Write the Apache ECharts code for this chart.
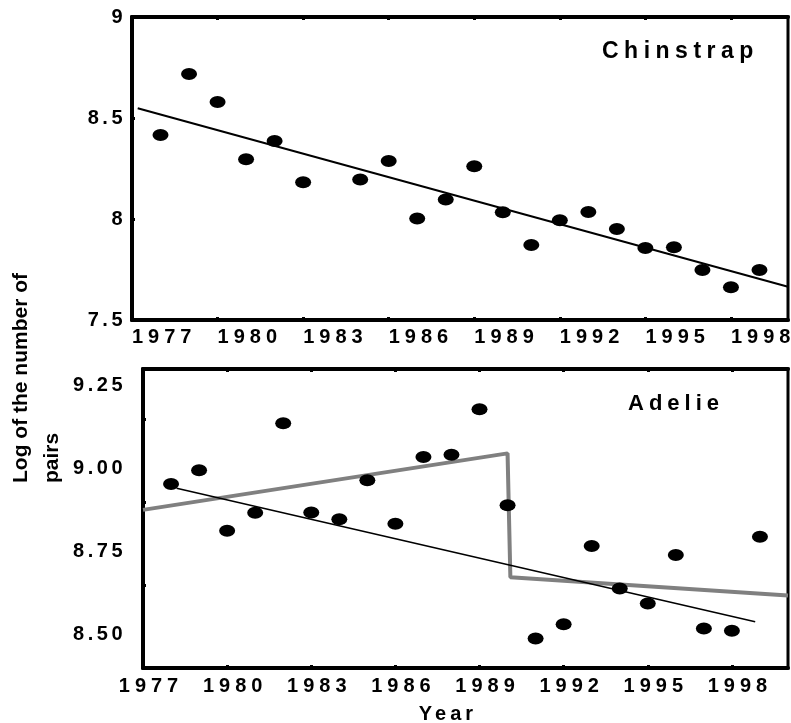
<!DOCTYPE html>
<html><head><meta charset="utf-8">
<script src="https://cdn.jsdelivr.net/npm/echarts@6/dist/echarts.min.js"></script>
<style>html,body{margin:0;padding:0;background:#fff}#c{width:791px;height:723px}</style>
</head><body><div id="c"></div>
<script>
// ---------- data ----------
const chinstrapYears  = [1978,1979,1980,1981,1982,1983,1985,1986,1987,1988,1989,1990,1991,1992,1993,1994,1995,1996,1997,1998,1999];
const chinstrapValues = [8.416,8.718,8.579,8.296,8.386,8.182,8.195,8.287,8.003,8.097,8.261,8.033,7.871,7.994,8.035,7.950,7.856,7.860,7.748,7.662,7.748];
const chinstrapTrendYears  = [1977.2, 2000];
const chinstrapTrendValues = [8.548, 7.665];

const adelieYears  = [1978,1979,1980,1981,1982,1983,1984,1985,1986,1987,1988,1989,1990,1991,1992,1993,1994,1995,1996,1997,1998,1999];
const adelieValues = [8.954,8.995,8.813,8.867,9.137,8.868,8.848,8.965,8.834,9.035,9.042,9.179,8.890,8.489,8.532,8.767,8.639,8.594,8.740,8.519,8.512,8.795];
const adelieTrendYears  = [1978.2, 1998.83];
const adelieTrendValues = [8.941, 8.539];
const adelieBreakYears  = [1977, 1990.0, 1990.1, 2000];
const adelieBreakValues = [8.876, 9.046, 8.673, 8.618];

const yearTicks = [1977,1980,1983,1986,1989,1992,1995,1998];
const chinstrapYLabels = [7.5, 8, 8.5, 9];
const chinstrapYTicks = [8, 8.5];
const adelieYLabels = [8.5, 8.75, 9.0, 9.25];
const adelieYTicks = [8.65, 8.9, 9.15];

const titleChinstrap = 'Chinstrap';
const titleAdelie = 'Adelie';
const xTitle = 'Year';
const yTitle = 'Log of the number of\npairs';

// ---------- letter spacing for the spaced-out labels ----------
(function(){
  const P = CanvasRenderingContext2D.prototype;
  const orig = P.fillText;
  P.fillText = function(t, x, y, w){
    const s = String(t);
    let ls = 0;
    if (/^\d{4}$/.test(s)) ls = 5;
    else if (/^[\d.]+$/.test(s)) ls = 3.5;
    else if (s === titleChinstrap) ls = 5.5;
    else if (s === titleAdelie) ls = 5;
    else if (s === xTitle) ls = 4;
    const has = 'letterSpacing' in this;
    if (has) this.letterSpacing = ls + 'px';
    const r = orig.call(this, t, x, y, w);
    if (has) this.letterSpacing = '0px';
    return r;
  };
})();

const zip = (a, b) => a.map((v, i) => [v, b[i]]);
const FONT = '"Liberation Sans", Arial, sans-serif';

function xAxisPair(gridIndex, labelAlign, labelPad, margin){
  return [
    { type:'value', gridIndex, position:'bottom', min:1977, max:2000,
      axisLine:{ show:true, onZero:false, lineStyle:{ color:'#000', width:4 } },
      axisTick:{ show:true, inside:true, length:3, customValues: yearTicks, lineStyle:{ color:'#000', width:3 } },
      axisLabel:{ show:true, customValues: yearTicks, color:'#000', fontFamily:FONT, fontWeight:'bold', fontSize:20,
                  align:labelAlign, margin, padding:labelPad, formatter: v => String(v) },
      splitLine:{ show:false } },
    { type:'value', gridIndex, position:'top', min:1977, max:2000,
      axisLine:{ show:true, onZero:false, lineStyle:{ color:'#000', width:4 } },
      axisTick:{ show:true, inside:true, length:3, customValues: yearTicks, lineStyle:{ color:'#000', width:3 } },
      axisLabel:{ show:false }, splitLine:{ show:false } }
  ];
}

const option = {
  animation:false,
  backgroundColor:'#fff',
  grid:[
    { left:132, top:17, width:656, height:303, show:true, borderColor:'#000', borderWidth:3, backgroundColor:'transparent' },
    { left:143, top:369, width:645, height:299, show:true, borderColor:'#000', borderWidth:3, backgroundColor:'transparent' }
  ],
  xAxis: [...xAxisPair(0, 'left', [0,0,0,0], 7), ...xAxisPair(1, 'center', [0,0,0,16], 8)],
  yAxis: [
    { type:'value', gridIndex:0, min:7.5, max:9,
      axisLine:{ show:true, onZero:false, lineStyle:{ color:'#000', width:4 } },
      axisTick:{ show:true, inside:true, length:3, customValues: chinstrapYTicks, lineStyle:{ color:'#000', width:3 } },
      axisLabel:{ customValues: chinstrapYLabels, color:'#000', fontFamily:FONT, fontWeight:'bold', fontSize:20, margin:6,
                  padding:[4,0,0,0], formatter: v => String(v) },
      splitLine:{ show:false } },
    { type:'value', gridIndex:1, min:8.4, max:9.3,
      axisLine:{ show:true, onZero:false, lineStyle:{ color:'#000', width:4 } },
      axisTick:{ show:true, inside:true, length:3, customValues: adelieYTicks, lineStyle:{ color:'#000', width:3 } },
      axisLabel:{ customValues: adelieYLabels, color:'#000', fontFamily:FONT, fontWeight:'bold', fontSize:20, margin:17,
                  padding:[6,0,0,0], formatter: v => v.toFixed(2) },
      splitLine:{ show:false } }
  ],
  series: [
    { type:'line', xAxisIndex:0, yAxisIndex:0, data: zip(chinstrapTrendYears, chinstrapTrendValues),
      showSymbol:false, symbol:'none', lineStyle:{ color:'#000', width:2 }, z:2, clip:true },
    { type:'scatter', xAxisIndex:0, yAxisIndex:0, data: zip(chinstrapYears, chinstrapValues),
      symbol:'circle', symbolSize:[16,12], itemStyle:{ color:'#000', opacity:1 }, z:3 },
    { type:'line', xAxisIndex:2, yAxisIndex:1, data: zip(adelieBreakYears, adelieBreakValues),
      showSymbol:false, symbol:'none', lineStyle:{ color:'#808080', width:4 }, z:2, clip:true },
    { type:'line', xAxisIndex:2, yAxisIndex:1, data: zip(adelieTrendYears, adelieTrendValues),
      showSymbol:false, symbol:'none', lineStyle:{ color:'#000', width:1.6 }, z:2, clip:true },
    { type:'scatter', xAxisIndex:2, yAxisIndex:1, data: zip(adelieYears, adelieValues),
      symbol:'circle', symbolSize:[16,12], itemStyle:{ color:'#000', opacity:1 }, z:3 }
  ],
  graphic: [
    { type:'text', x:602, y:52, z:10, style:{ text:titleChinstrap, fill:'#000', fontFamily:FONT, fontWeight:'bold', fontSize:23, align:'left', verticalAlign:'middle' } },
    { type:'text', x:628, y:404, z:10, style:{ text:titleAdelie, fill:'#000', fontFamily:FONT, fontWeight:'bold', fontSize:22, align:'left', verticalAlign:'middle' } },
    { type:'text', x:448, y:714, z:10, style:{ text:xTitle, fill:'#000', fontFamily:FONT, fontWeight:'bold', fontSize:20, align:'center', verticalAlign:'middle' } },
    { type:'text', x:6, y:483, rotation:Math.PI/2, z:10, style:{ text:yTitle, fill:'#000', fontFamily:FONT, fontWeight:'bold', fontSize:21, lineHeight:31, align:'left', verticalAlign:'top' } }
  ]
};

const chart = echarts.init(document.getElementById('c'), null, { renderer:'canvas' });
chart.setOption(option);
</script>
</body></html>
